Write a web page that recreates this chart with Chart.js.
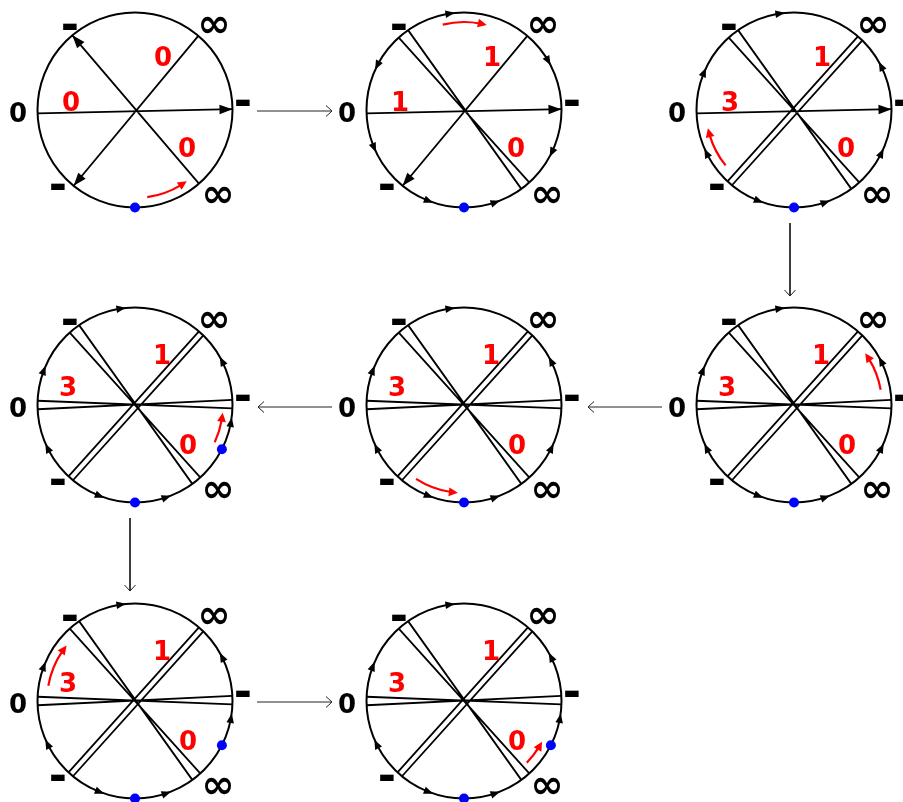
<!DOCTYPE html>
<html>
<head>
<meta charset="utf-8">
<script src="https://cdn.jsdelivr.net/npm/chart.js@4.4.0/dist/chart.umd.min.js"></script>
<style>
  html, body { margin: 0; padding: 0; background: #fff; }
  canvas { display: block; }
</style>
</head>
<body>
<canvas id="diagram" width="903" height="802"></canvas>
<script>
// steps in drawing order: row 1 left->right, row 2 right->left, row 3 left->right
const centerX = [135, 464, 794, 794, 464, 135, 135, 464];
const centerY = [110, 110, 110, 405, 405, 405, 701, 701];
const radius = 97.5;

// red numbers per step: upper-right sector, left sector, lower-right sector
const redUpper = ["0", "1", "1", "1", "1", "1", "1", "1"];
const redLeft  = ["0", "1", "3", "3", "3", "3", "3", "3"];
const redLower = ["0", "0", "0", "0", "0", "0", "0", "0"];

// black labels round each circle: left, upper-left, upper-right, right, lower-right, lower-left
const rimLabels = ["0", "-", "∞", "-", "∞", "-"];

// chords, angles in degrees clockwise from 3 o'clock. 1 = single chord (arrow at 2nd end), 2 = doubled
const chordASingle = [[178, 359.5]];
const chordADouble = [[182.5, 2], [177.5, 357]];
const chordBSingle = [[49, 230]];
const chordBDouble = [[228, 48], [235, 54]];
const chordCSingle = [[310.5, 129]];
const chordCDouble = [[311, 133], [314.5, 129.5]];
const chordAState = [1, 1, 1, 2, 2, 2, 2, 2];
const chordBState = [1, 2, 2, 2, 2, 2, 2, 2];
const chordCState = [1, 1, 2, 2, 2, 2, 2, 2];

// small arrowheads on the rim: [angle, direction] (+1 clockwise, -1 counter-clockwise)
const arcArrows = [
  [],
  [[262, 1], [330, 1], [26, 1], [71, -1], [111, -1], [157, -1], [207, -1]],
  [[262, 1], [333, -1], [26, -1], [71, -1], [111, -1], [154, 1], [203, 1]],
  [[262, 1], [333, -1], [26, -1], [71, -1], [111, -1], [154, 1], [201, 1]],
  [[262, 1], [333, -1], [26, -1], [71, -1], [111, -1], [154, 1], [201, 1]],
  [[262, 1], [333, -1], [10, -1], [71, -1], [111, -1], [154, 1], [201, 1]],
  [[262, 1], [333, -1], [10, -1], [71, -1], [111, -1], [154, 1], [201, 1]],
  [[262, 1], [333, -1], [10, -1], [71, -1], [111, -1], [154, 1], [201, 1]]
];

// blue dots on the rim
const dotCircle = [0, 1, 2, 3, 4, 5, 5, 6, 6, 7, 7];
const dotAngle  = [90, 90, 90, 90, 90, 90, 27, 90, 27, 90, 27];

// red curved arrows, one per step
const redFrom = [82, 256, 141, 350, 123, 25, 190, 44.5];
const redTo   = [54, 285, 168, 324, 94, 5, 219, 27.5];

// arrows between the steps
const linkFromX = [257, 790, 662, 332, 130, 257];
const linkFromY = [111, 223, 407, 407, 518, 702];
const linkToX   = [332, 790, 588, 258, 130, 332];
const linkToY   = [111, 296, 407, 407, 591, 702];

// layout of the text (offsets from the circle centre)
const rimOffsets = [[-117, 4], [-65, -84], [79, -86], [108, -8], [83, 84], [-77, 76]];
const redOffsetsTop = [[28, -53], [-64, -8], [52, 38]];
const redOffsetsRest = [[27, -50], [-67, -18], [53, 40]];
const redArcRadius = 88;

function rimPoint(i, deg, r) {
  const a = deg * Math.PI / 180;
  const rr = r === undefined ? radius : r;
  return { x: centerX[i] + rr * Math.cos(a), y: centerY[i] + rr * Math.sin(a) };
}

function chordsOf(i) {
  const out = [];
  const a = chordAState[i] === 1 ? chordASingle : chordADouble;
  const b = chordBState[i] === 1 ? chordBSingle : chordBDouble;
  const c = chordCState[i] === 1 ? chordCSingle : chordCDouble;
  [[a, chordAState[i]], [b, chordBState[i]], [c, chordCState[i]]].forEach(([lines, st]) => {
    lines.forEach(l => out.push({ from: l[0], to: l[1], arrow: st === 1 }));
  });
  return out;
}

const circlePoints = centerX.map((x, i) => ({ x: x, y: centerY[i] }));

const chordPoints = [];
centerX.forEach((_, i) => {
  chordsOf(i).forEach(ch => {
    chordPoints.push(rimPoint(i, ch.from), rimPoint(i, ch.to), { x: null, y: null });
  });
});

const dotPoints = dotCircle.map((c, k) => rimPoint(c, dotAngle[k]));

const linkPoints = [];
linkFromX.forEach((x, k) => {
  linkPoints.push({ x: x, y: linkFromY[k] }, { x: linkToX[k], y: linkToY[k] }, { x: null, y: null });
});

function tri(ctx, tx, ty, dx, dy, len, half) {
  const nx = -dy, ny = dx;
  ctx.beginPath();
  ctx.moveTo(tx, ty);
  ctx.lineTo(tx - dx * len + nx * half, ty - dy * len + ny * half);
  ctx.lineTo(tx - dx * len - nx * half, ty - dy * len - ny * half);
  ctx.closePath();
  ctx.fill();
}

const decorPlugin = {
  id: 'decor',
  afterDatasetsDraw(chart) {
    const ctx = chart.ctx;
    const sx = chart.scales.x, sy = chart.scales.y;
    const X = v => sx.getPixelForValue(v);
    const Y = v => sy.getPixelForValue(v);
    const unit = X(1) - X(0);
    ctx.save();

    centerX.forEach((_, i) => {
      // chord arrowheads
      ctx.fillStyle = '#000';
      chordsOf(i).forEach(ch => {
        if (!ch.arrow) return;
        const p = rimPoint(i, ch.to), q = rimPoint(i, ch.from);
        let dx = X(p.x) - X(q.x), dy = Y(p.y) - Y(q.y);
        const d = Math.hypot(dx, dy); dx /= d; dy /= d;
        tri(ctx, X(p.x), Y(p.y), dx, dy, 13, 4.8);
      });
      // rim arrowheads
      arcArrows[i].forEach(([deg, dir]) => {
        const a = deg * Math.PI / 180;
        const p = rimPoint(i, deg);
        const dx = -Math.sin(a) * dir, dy = Math.cos(a) * dir;
        tri(ctx, X(p.x) + dx * 4.5, Y(p.y) + dy * 4.5, dx, dy, 9.5, 3.8);
      });
      // red curved arrow
      const cx = X(centerX[i]), cy = Y(centerY[i]);
      const a0 = redFrom[i] * Math.PI / 180, a1 = redTo[i] * Math.PI / 180;
      const dir = redTo[i] > redFrom[i] ? 1 : -1;
      const rr = redArcRadius * unit;
      const back = 7 / rr;
      ctx.strokeStyle = '#ff0000';
      ctx.fillStyle = '#ff0000';
      ctx.lineWidth = 2.2;
      ctx.beginPath();
      ctx.arc(cx, cy, rr, a0, a1 - dir * back, dir < 0);
      ctx.stroke();
      const tx = cx + rr * Math.cos(a1), ty = cy + rr * Math.sin(a1);
      const dx = -Math.sin(a1 - dir * back / 2) * dir, dy = Math.cos(a1 - dir * back / 2) * dir;
      tri(ctx, tx, ty, dx, dy, 9, 4.4);

      // black rim labels
      ctx.fillStyle = '#000';
      ctx.textAlign = 'center';
      ctx.textBaseline = 'middle';
      rimLabels.forEach((t, k) => {
        const o = rimOffsets[k];
        if (t === '∞') ctx.font = 'bold 40px "DejaVu Sans"';
        else if (t === '-') ctx.font = 'bold 44px "DejaVu Sans"';
        else ctx.font = 'bold 26px "DejaVu Sans"';
        const dy = t === '0' ? 1 : (t === '∞' ? 2.5 : 3);
        ctx.fillText(t, X(centerX[i] + o[0]), Y(centerY[i] + o[1]) + dy);
      });
      // red sector numbers
      const offs = i < 3 ? redOffsetsTop : redOffsetsRest;
      ctx.fillStyle = '#ff0000';
      ctx.font = 'bold 26px "DejaVu Sans"';
      [redUpper[i], redLeft[i], redLower[i]].forEach((t, k) => {
        ctx.fillText(t, X(centerX[i] + offs[k][0]), Y(centerY[i] + offs[k][1]) + 2.5);
      });
    });

    // open arrowheads on the links
    ctx.strokeStyle = '#222';
    ctx.lineWidth = 1;
    linkFromX.forEach((x0, k) => {
      const x1 = X(linkToX[k]), y1 = Y(linkToY[k]);
      let dx = x1 - X(x0), dy = y1 - Y(linkFromY[k]);
      const d = Math.hypot(dx, dy); dx /= d; dy /= d;
      const nx = -dy, ny = dx;
      ctx.beginPath();
      ctx.moveTo(x1 - dx * 6 + nx * 5.5, y1 - dy * 6 + ny * 5.5);
      ctx.lineTo(x1, y1);
      ctx.lineTo(x1 - dx * 6 - nx * 5.5, y1 - dy * 6 - ny * 5.5);
      ctx.stroke();
    });
    ctx.restore();
  }
};

new Chart(document.getElementById('diagram'), {
  type: 'scatter',
  data: {
    datasets: [
      {
        label: 'dots', data: dotPoints, order: 0, clip: false,
        pointRadius: 5, pointBackgroundColor: '#0000ff', pointBorderWidth: 0
      },
      {
        label: 'chords', data: chordPoints, order: 1, clip: false,
        showLine: true, spanGaps: false, borderColor: '#000', borderWidth: 1.8, pointRadius: 0
      },
      {
        label: 'links', data: linkPoints, order: 1, clip: false,
        showLine: true, spanGaps: false, borderColor: '#222', borderWidth: 1, pointRadius: 0
      },
      {
        label: 'circles', data: circlePoints, order: 2, clip: false,
        pointRadius: (c) => {
          const s = c.chart.scales.x;
          return s ? s.getPixelForValue(radius) - s.getPixelForValue(0) : radius;
        },
        pointBackgroundColor: 'rgba(0,0,0,0)', pointBorderColor: '#000', pointBorderWidth: 2
      }
    ]
  },
  options: {
    responsive: false,
    animation: false,
    events: [],
    layout: { padding: 0, autoPadding: false },
    plugins: { legend: { display: false }, tooltip: { enabled: false } },
    scales: {
      x: { type: 'linear', min: 0, max: 903, display: false },
      y: { type: 'linear', min: 0, max: 802, reverse: true, display: false }
    }
  },
  plugins: [decorPlugin]
});
</script>
</body>
</html>
